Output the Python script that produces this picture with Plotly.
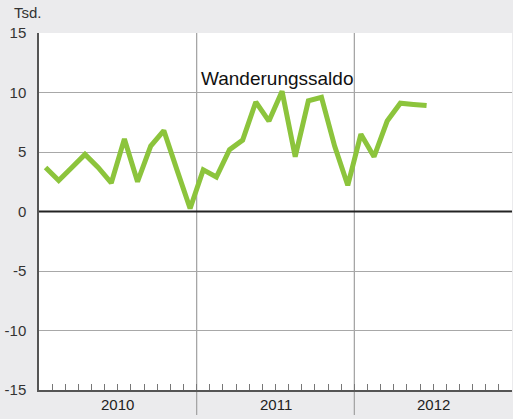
import plotly.graph_objects as go

months = list(range(30))  # Jan 2010 .. Jun 2012
saldo = [3.7, 2.6, 3.7, 4.8, 3.7, 2.4, 6.1, 2.5, 5.5, 6.8, 3.5, 0.25,
         3.5, 2.9, 5.2, 6.0, 9.2, 7.6, 10.1, 4.6, 9.3, 9.6, 5.5, 2.2,
         6.5, 4.6, 7.6, 9.1, 9.0, 8.9]
years = ["2010", "2011", "2012"]
year_centers = [5.5, 17.5, 29.5]
year_bounds = [11.5, 23.5]
month_ticks = [i + 0.5 for i in range(35)]
y_ticks = [-15, -10, -5, 0, 5, 10, 15]
y_labels = ["-15", "-10", "-5", "0", "5", "10", "15"]
series_name = "Wanderungssaldo"

font = "Liberation Sans, Arial, Helvetica, sans-serif"

fig = go.Figure()
fig.add_trace(go.Scatter(x=months, y=saldo, mode="lines",
                         line=dict(color="#8cc43c", width=5),
                         name=series_name, hoverinfo="skip"))

shapes = []
for b in year_bounds:
    shapes.append(dict(type="line", xref="x", yref="paper", x0=b, x1=b, y0=-0.07, y1=1,
                       line=dict(color="#a0a0a0", width=1.2), layer="below"))
shapes.append(dict(type="line", xref="paper", yref="y", x0=0, x1=1, y0=0, y1=0,
                   line=dict(color="#222222", width=2)))
annotations = [dict(x=c, y=-0.012, xref="x", yref="paper", text=t, showarrow=False,
                    yanchor="top", font=dict(size=15, color="#222", family=font))
               for c, t in zip(year_centers, years)]
annotations.append(dict(x=17.65, y=11.2, xref="x", yref="y", text=series_name, showarrow=False,
                        font=dict(size=19, color="#111", family=font)))
annotations.append(dict(x=-0.058, y=1.028, xref="paper", yref="paper", text="Tsd.",
                        showarrow=False, xanchor="left", yanchor="bottom",
                        font=dict(size=15, color="#333", family=font)))

fig.update_layout(
    width=513, height=419,
    margin=dict(l=39, r=1, t=33, b=29),
    paper_bgcolor="#ebebed", plot_bgcolor="#ffffff",
    showlegend=False,
    shapes=shapes, annotations=annotations,
    font=dict(family=font, size=15, color="#333"),
    xaxis=dict(range=[-0.5, 35.5], tickvals=month_ticks, ticks="inside", ticklen=6,
               tickcolor="#777", tickwidth=1, showticklabels=False, showgrid=False,
               zeroline=False, showline=True, linecolor="#555", linewidth=1.5,
               automargin=False),
    yaxis=dict(range=[-15, 15], tickvals=y_ticks, ticktext=y_labels, ticks="outside", ticklen=8,
               tickcolor="rgba(0,0,0,0)", showgrid=True, gridcolor="#a8a8a8", gridwidth=1.2,
               zeroline=False, showline=True, linecolor="#555", linewidth=1.5,
               automargin=False, tickfont=dict(size=15, color="#333")),
)
fig.write_html("out.html", config={"displayModeBar": False},
               post_script="document.body.style.margin='0';document.body.style.overflow='hidden';")
